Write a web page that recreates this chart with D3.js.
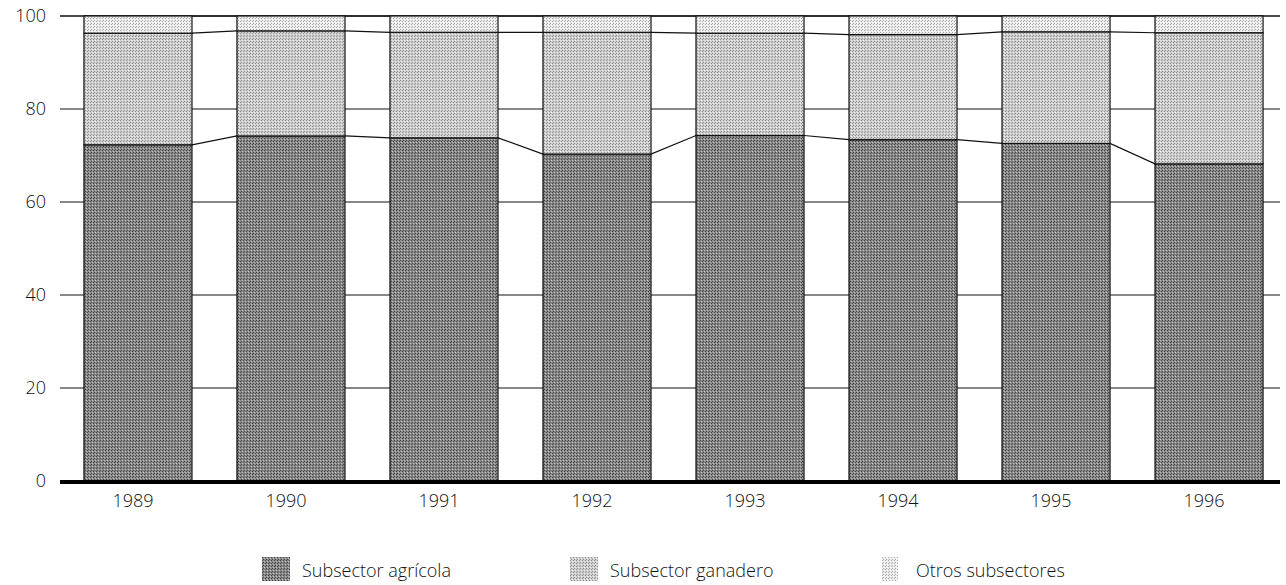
<!DOCTYPE html>
<meta charset="utf-8">
<script src="https://d3js.org/d3.v7.min.js"></script>
<style>
  body { margin: 0; background: #fff; }
  text { font-family: "Open Sans", sans-serif; font-weight: 300; fill: #111; }
</style>
<div id="chart"></div>
<script>

// data (percent of total)
var years = ["1989", "1990", "1991", "1992", "1993", "1994", "1995", "1996"];
var agricola = [72.3, 74.2, 73.8, 70.3, 74.3, 73.4, 72.6, 68.2];
var ganadero = [24.0, 22.6, 22.7, 26.2, 22.0, 22.6, 24.0, 28.2];
var otros = years.map(function(d, i) { return 100 - agricola[i] - ganadero[i]; });
var seriesNames = ["Subsector agrícola", "Subsector ganadero", "Otros subsectores"];
var yTicks = [0, 20, 40, 60, 80, 100];

var width = 1286, height = 585;
var margin = {top: 16, left: 60, right: 6, bottom: 104};

var svg = d3.select("#chart").append("svg")
  .attr("width", width)
  .attr("height", height);

// halftone-ish fills
var defs = svg.append("defs");
function pattern(id, a, b, bg) {
  var p = defs.append("pattern")
    .attr("id", id)
    .attr("width", 3).attr("height", 3)
    .attr("patternUnits", "userSpaceOnUse");
  p.append("rect").attr("width", 3).attr("height", 3).attr("fill", bg);
  p.append("rect").attr("x", 0).attr("y", 0).attr("width", 1).attr("height", 1).attr("fill", a);
  p.append("rect").attr("x", 2).attr("y", 1).attr("width", 1).attr("height", 1).attr("fill", b);
  p.append("rect").attr("x", 1).attr("y", 2).attr("width", 1).attr("height", 1).attr("fill", a);
}
pattern("pAgr", "#4a4a4a", "#c0c0c0", "#8a8a8a");
pattern("pGan", "#8f8f8f", "#f0f0f0", "#cfcfcf");
pattern("pOtr", "#aaaaaa", "#ffffff", "#ececec");
var fills = ["url(#pAgr)", "url(#pGan)", "url(#pOtr)"];

var x = d3.scaleBand()
  .domain(years)
  .range([62, 1285])
  .paddingInner(0.294)
  .paddingOuter(0.1435);

var y = d3.scaleLinear()
  .domain([0, 100])
  .range([height - margin.bottom, margin.top]);

// grid lines (seen only between the bars)
svg.append("g")
  .selectAll("line")
  .data(yTicks.filter(function(d) { return d > 0; }))
  .enter().append("line")
  .attr("x1", margin.left).attr("x2", width - margin.right)
  .attr("y1", function(d) { return y(d); })
  .attr("y2", function(d) { return y(d); })
  .attr("stroke", "#111")
  .attr("stroke-width", function(d) { return d === 100 ? 1.4 : 1; });

// stack
var rows = years.map(function(yr, i) {
  return {year: yr, agr: agricola[i], gan: ganadero[i], otr: otros[i]};
});
var stacked = d3.stack().keys(["agr", "gan", "otr"])(rows);

// connecting lines between bars at the layer boundaries
stacked.forEach(function(layer) {
  var pts = [];
  layer.forEach(function(d) {
    pts.push([x(d.data.year), y(d[1])]);
    pts.push([x(d.data.year) + x.bandwidth(), y(d[1])]);
  });
  svg.append("path")
    .attr("d", d3.line()(pts))
    .attr("fill", "none")
    .attr("stroke", "#111")
    .attr("stroke-width", 1.2);
});

// bars
svg.append("g")
  .selectAll("g")
  .data(stacked)
  .enter().append("g")
  .attr("fill", function(d, i) { return fills[i]; })
  .selectAll("rect")
  .data(function(d) { return d; })
  .enter().append("rect")
  .attr("x", function(d) { return x(d.data.year); })
  .attr("y", function(d) { return y(d[1]); })
  .attr("width", x.bandwidth())
  .attr("height", function(d) { return y(d[0]) - y(d[1]); })
  .attr("stroke", "#111")
  .attr("stroke-width", 1.2);

// y axis labels
svg.append("g")
  .selectAll("text")
  .data(yTicks)
  .enter().append("text")
  .attr("x", 46)
  .attr("y", function(d) { return y(d) + 6; })
  .attr("text-anchor", "end")
  .style("font-size", "18px")
  .text(function(d) { return d; });

// baseline
svg.append("line")
  .attr("x1", margin.left).attr("x2", width - margin.right)
  .attr("y1", y(0) + 1).attr("y2", y(0) + 1)
  .attr("stroke", "#000")
  .attr("stroke-width", 4);

// year labels
svg.append("g")
  .selectAll("text")
  .data(years)
  .enter().append("text")
  .attr("x", function(d) { return x(d) + x.bandwidth() / 2 - 5; })
  .attr("y", y(0) + 26)
  .attr("text-anchor", "middle")
  .style("font-size", "18px")
  .text(function(d) { return d; });

// legend
var legendX = [262, 570, 882];
var legend = svg.append("g")
  .selectAll("g")
  .data(seriesNames)
  .enter().append("g")
  .attr("transform", function(d, i) { return "translate(" + legendX[i] + ",557)"; });

legend.append("rect")
  .attr("width", function(d, i) { return i === 2 ? 16 : 28; })
  .attr("height", 24)
  .attr("fill", function(d, i) { return fills[i]; });

legend.append("text")
  .attr("x", function(d, i) { return i === 2 ? 34 : 40; })
  .attr("y", 20)
  .style("font-size", "18px")
  .text(function(d) { return d; });

</script>
